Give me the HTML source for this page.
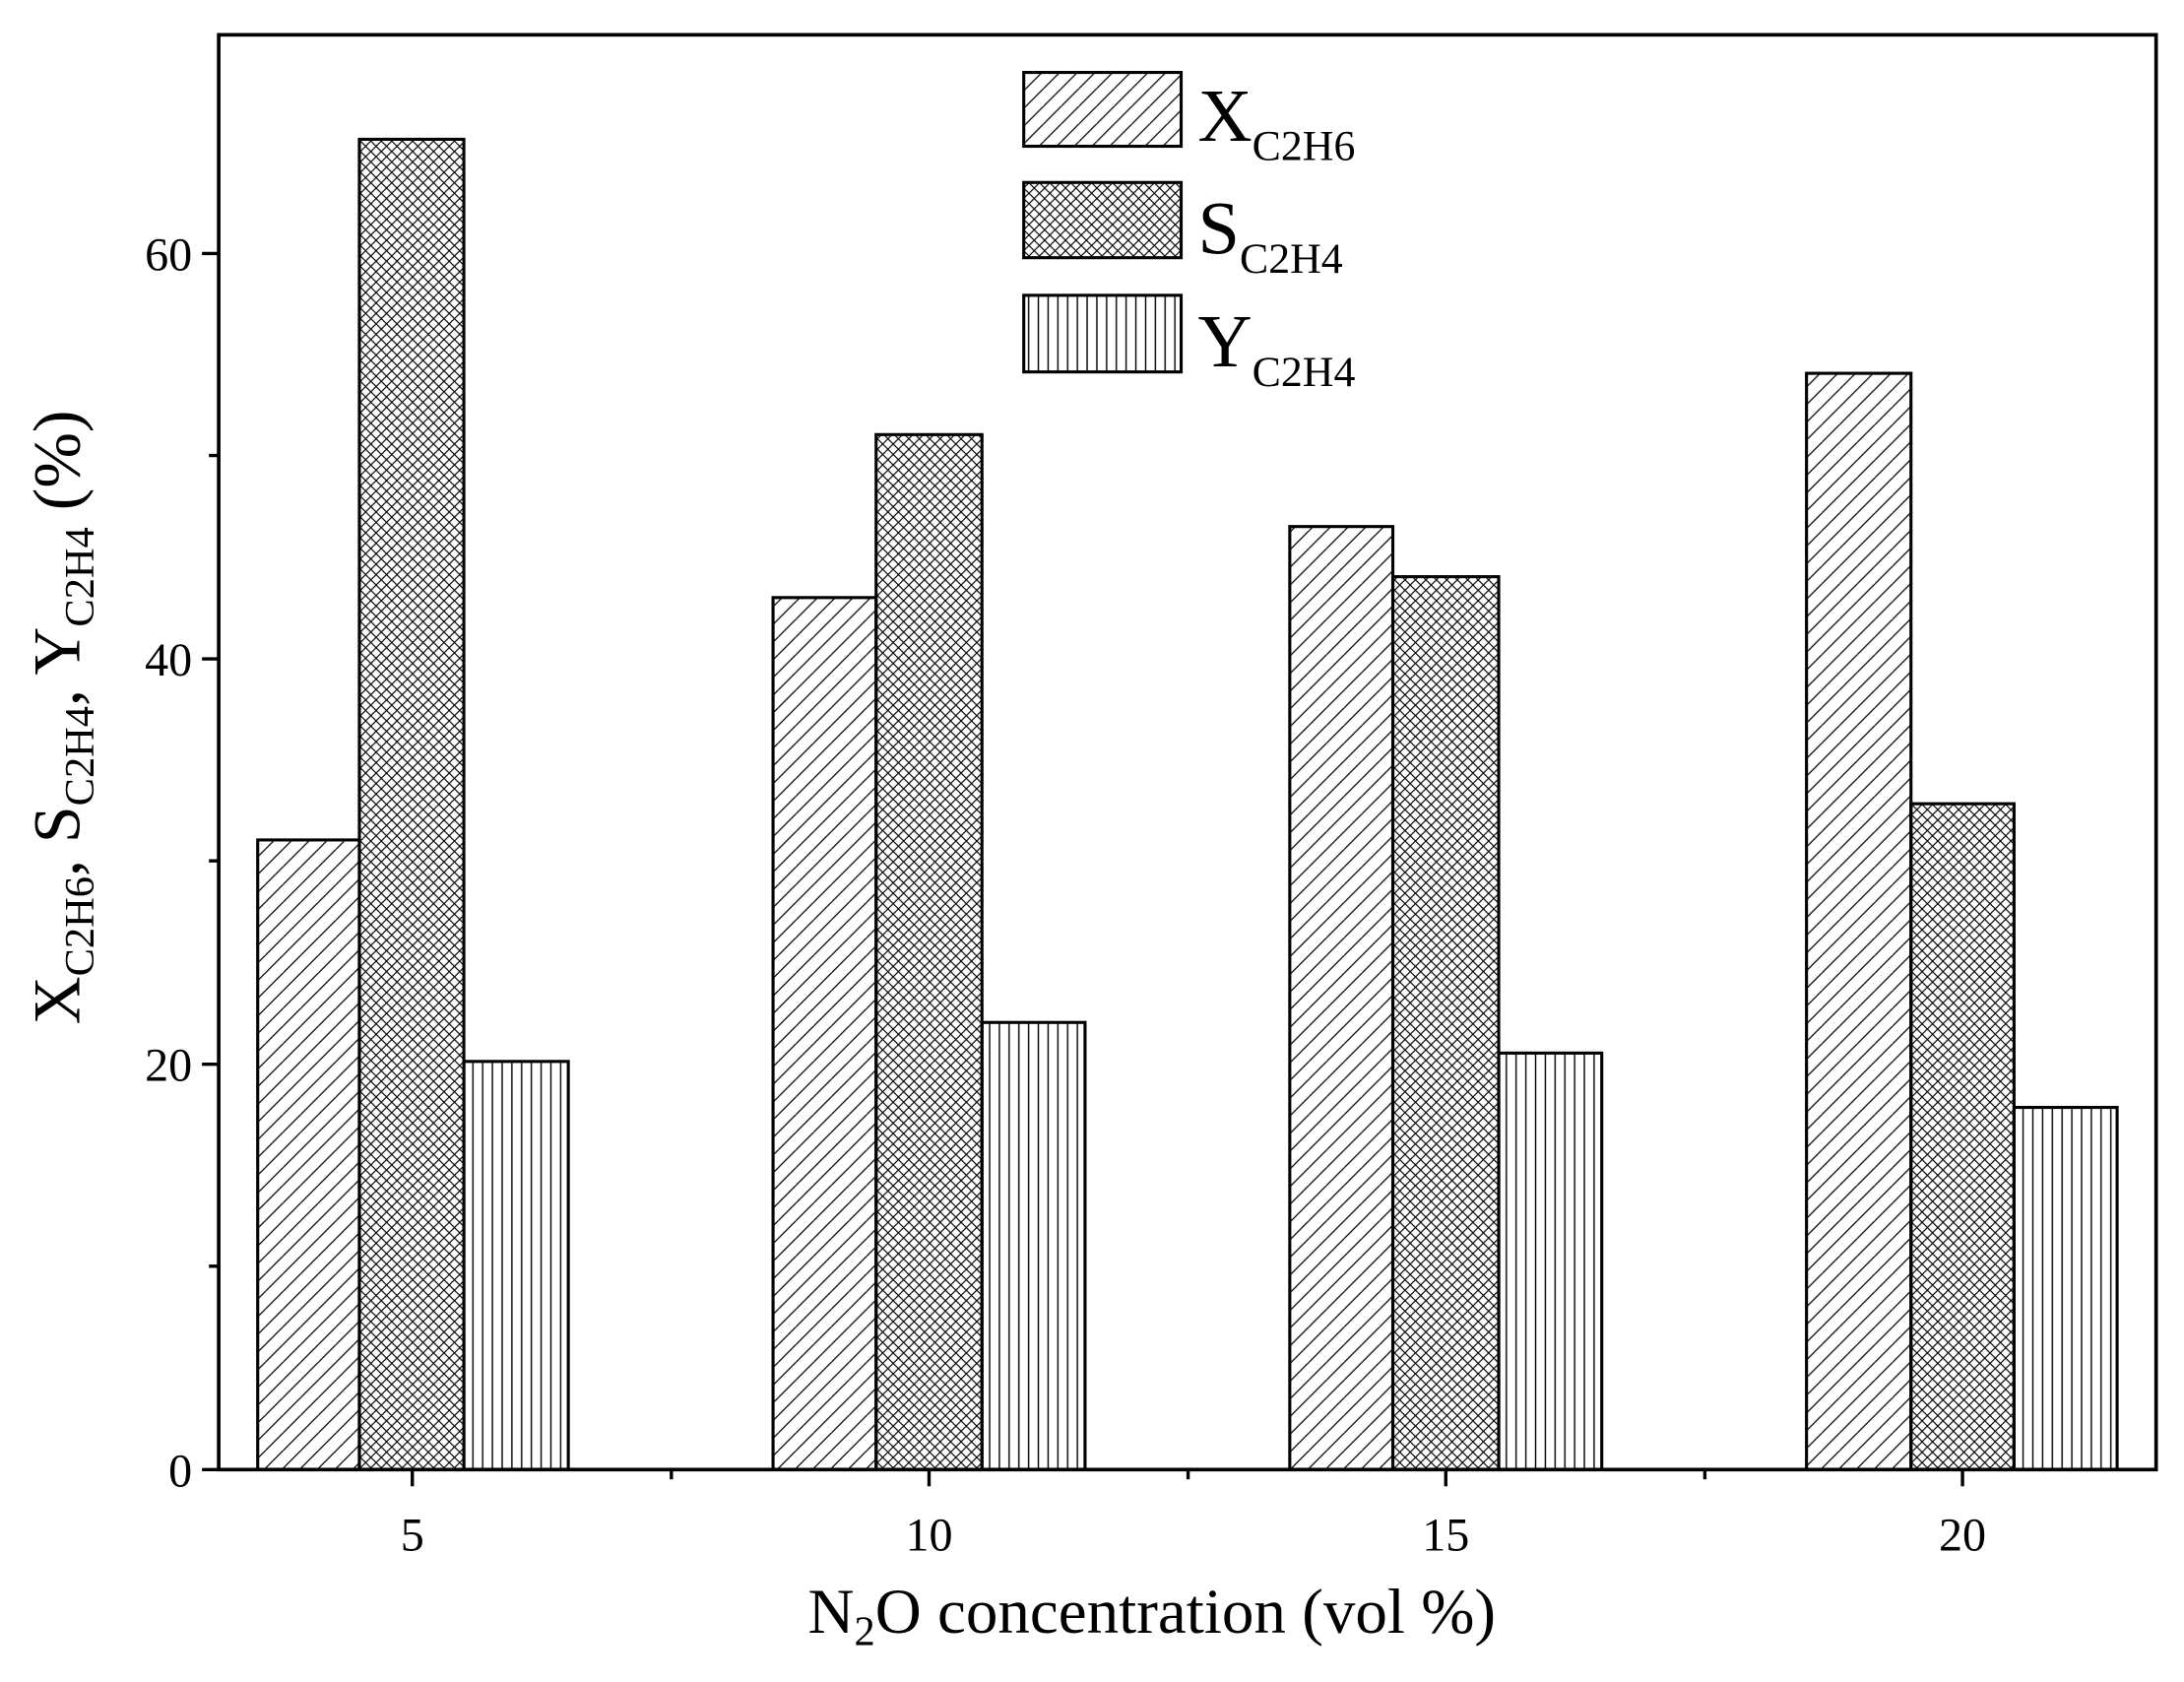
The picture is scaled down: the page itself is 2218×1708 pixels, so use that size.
<!DOCTYPE html>
<html><head><style>html,body{margin:0;padding:0;background:#fff}svg{display:block}</style></head>
<body>
<svg width="2218" height="1708" viewBox="0 0 1568 1207.5" xmlns="http://www.w3.org/2000/svg" font-family="Liberation Serif, serif">
<defs>
<pattern id="diag" patternUnits="userSpaceOnUse" width="12.7" height="12.7">
<path d="M-1,13.7 L13.7,-1 M-4,4 L4,-4 M9,16.7 L16.7,9" stroke="#000" stroke-width="0.9"/>
</pattern>
<pattern id="cross" patternUnits="userSpaceOnUse" width="7.5" height="7.5">
<path d="M0,7.5 L7.5,0 M0,0 L7.5,7.5 M-1,1 L1,-1 M6.5,8.5 L8.5,6.5 M-1,6.5 L1,8.5 M6.5,-1 L8.5,1" stroke="#000" stroke-width="0.8"/>
</pattern>
<pattern id="vert" patternUnits="userSpaceOnUse" width="7" height="10">
<path d="M3.5,0 L3.5,10" stroke="#000" stroke-width="1"/>
</pattern>
</defs>
<g stroke="#000" stroke-width="2.2">
<rect x="185" y="603" width="73" height="452" fill="url(#diag)"/>
<rect x="258" y="100" width="75" height="955" fill="url(#cross)"/>
<rect x="333" y="762" width="75" height="293" fill="url(#vert)"/>
<rect x="555" y="429" width="74" height="626" fill="url(#diag)"/>
<rect x="629" y="312" width="76" height="743" fill="url(#cross)"/>
<rect x="705" y="734" width="74" height="321" fill="url(#vert)"/>
<rect x="926" y="378" width="74" height="677" fill="url(#diag)"/>
<rect x="1000" y="414" width="76" height="641" fill="url(#cross)"/>
<rect x="1076" y="756" width="74" height="299" fill="url(#vert)"/>
<rect x="1297" y="268" width="75" height="787" fill="url(#diag)"/>
<rect x="1372" y="577" width="74" height="478" fill="url(#cross)"/>
<rect x="1446" y="795" width="74" height="260" fill="url(#vert)"/>
<rect x="735" y="52" width="113" height="53" fill="url(#diag)"/>
<rect x="735" y="131" width="113" height="54" fill="url(#cross)"/>
<rect x="735" y="212" width="113" height="55" fill="url(#vert)"/>
</g>
<rect x="157" y="25" width="1391" height="1030" fill="none" stroke="#000" stroke-width="2.6"/>
<g stroke="#000" stroke-width="2.4">
<line x1="296" y1="1055" x2="296" y2="1067"/><line x1="667" y1="1055" x2="667" y2="1067"/>
<line x1="1038" y1="1055" x2="1038" y2="1067"/><line x1="1409" y1="1055" x2="1409" y2="1067"/>
<line x1="482" y1="1055" x2="482" y2="1062"/><line x1="853" y1="1055" x2="853" y2="1062"/><line x1="1224" y1="1055" x2="1224" y2="1062"/>
<line x1="145" y1="1055" x2="157" y2="1055"/><line x1="145" y1="764" x2="157" y2="764"/>
<line x1="145" y1="473" x2="157" y2="473"/><line x1="145" y1="182" x2="157" y2="182"/>
<line x1="150" y1="909" x2="157" y2="909"/><line x1="150" y1="618" x2="157" y2="618"/><line x1="150" y1="327" x2="157" y2="327"/>
</g>
<g font-size="34" text-anchor="middle">
<text x="296" y="1113">5</text><text x="667" y="1113">10</text><text x="1038" y="1113">15</text><text x="1409" y="1113">20</text>
</g>
<g font-size="34" text-anchor="end">
<text x="138" y="1067">0</text><text x="138" y="776">20</text><text x="138" y="485">40</text><text x="138" y="194">60</text>
</g>
<text x="827" y="1172" font-size="46" text-anchor="middle">N<tspan font-size="30" dy="9">2</tspan><tspan dy="-9">O concentration (vol %)</tspan></text>
<text transform="translate(57,515) rotate(-90)" font-size="48" text-anchor="middle">X<tspan font-size="30" dy="10">C2H6</tspan><tspan dy="-10">, S</tspan><tspan font-size="30" dy="10">C2H4</tspan><tspan dy="-10">, Y</tspan><tspan font-size="30" dy="10">C2H4</tspan><tspan dy="-10"> (%)</tspan></text>
<g font-size="54">
<text x="860" y="101">X<tspan font-size="31" dy="14">C2H6</tspan></text>
<text x="860" y="182">S<tspan font-size="31" dy="14">C2H4</tspan></text>
<text x="860" y="263">Y<tspan font-size="31" dy="14">C2H4</tspan></text>
</g>
</svg>
</body></html>
